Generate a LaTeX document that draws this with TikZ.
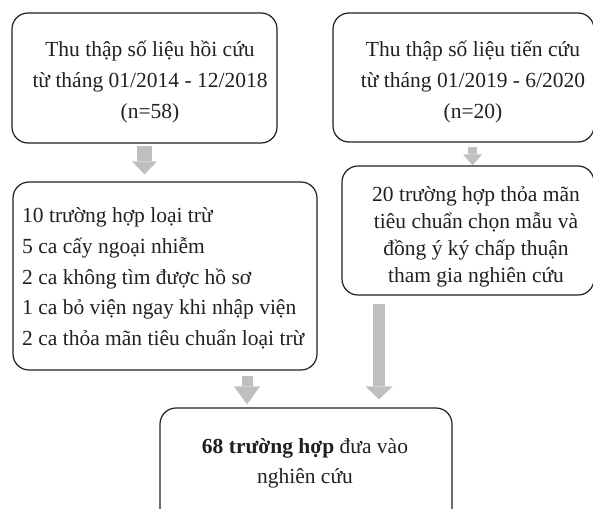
\documentclass[tikz,border=0pt]{standalone}
\usepackage{fontspec}
\setmainfont{Liberation Serif}
\usetikzlibrary{arrows.meta,calc}
\definecolor{ink}{HTML}{231F20}
\definecolor{arrowgray}{HTML}{BFBFBF}
\begin{document}
\begin{tikzpicture}[x=1pt,y=-1pt,
  box/.style={draw=ink, line width=1.2pt, rounded corners=16pt, inner sep=0pt},
  txt/.style={text=ink, inner sep=0pt},
  fatarrow/.style n args={4}{draw=arrowgray, line width=#1pt,
    -{Triangle[width=#2pt,length=#3pt,line width=0pt]}},
]
\useasboundingbox (0,0) rectangle (593,508);
\clip (0,0) rectangle (593,508);

% boxes
\node[box, minimum width=265pt, minimum height=130pt] (b1) at (144.5,78) {};
\node[box, minimum width=261pt, minimum height=129pt] (b2) at (463.5,77.5) {};
\node[box, minimum width=252pt, minimum height=129pt] (b3) at (468,230.5) {};
\node[box, minimum width=304pt, minimum height=188pt] (b4) at (165,276) {};
\node[box, minimum width=292pt, minimum height=122pt] (b5) at (306,469) {};

% texts
\node[txt, align=center, font=\fontsize{21.5}{31}\selectfont] (t1) at (150,81.5)
  {\strut Thu thập số liệu hồi cứu\\từ tháng 01/2014 - 12/2018\\(n=58)\strut};
\node[txt, align=center, font=\fontsize{21.5}{31}\selectfont] (t2) at (473,81.5)
  {\strut Thu thập số liệu tiến cứu\\từ tháng 01/2019 - 6/2020\\(n=20)\strut};
\node[txt, align=center, font=\fontsize{21.5}{27.3}\selectfont] (t3) at (476,236.5)
  {\strut 20 trường hợp thỏa mãn\\tiêu chuẩn chọn mẫu và\\đồng ý ký chấp thuận\\tham gia nghiên cứu\strut};
\node[txt, align=left, anchor=west, font=\fontsize{21.5}{30.75}\selectfont] (t4) at (22,278)
  {\strut 10 trường hợp loại trừ\\5 ca cấy ngoại nhiễm\\2 ca không tìm được hồ sơ\\1 ca bỏ viện ngay khi nhập viện\\2 ca thỏa mãn tiêu chuẩn loại trừ\strut};
\node[txt, align=center, font=\fontsize{21.5}{30}\selectfont] (t5) at (305,462)
  {\strut\textbf{68 trường hợp} đưa vào\\nghiên cứu\strut};

% arrows
\coordinate (a1) at ($(b1.south)+(0,2)$);
\draw[fatarrow={14.5}{25}{13}{}] (a1) -- ($(a1 |- b4.north)+(0,-7)$);
\coordinate (a2) at ($(b2.south)+(9,4)$);
\draw[fatarrow={8.5}{19}{11}{}] (a2) -- (a2 |- b3.north);
\coordinate (a3) at ($(b3.south)+(-89,8)$);
\draw[fatarrow={12}{27}{13}{}] (a3) -- ($(a3 |- b5.north)+(0,-8)$);
\coordinate (a4) at ($(b4.south)+(82,5)$);
\draw[fatarrow={11}{26}{18}{}] (a4) -- ($(a4 |- b5.north)+(0,-3)$);
\end{tikzpicture}
\end{document}
